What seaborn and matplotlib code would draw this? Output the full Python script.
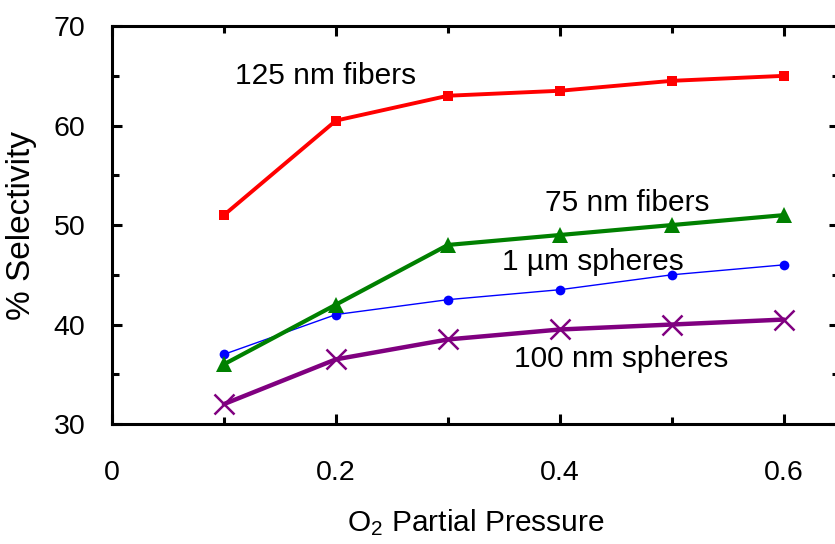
import numpy as np
import pandas as pd
import matplotlib
matplotlib.use("Agg")
import matplotlib.pyplot as plt
from matplotlib.ticker import MultipleLocator
import seaborn as sns

# =====================================
# DATA
# =====================================

pressure = [0.1, 0.2, 0.3, 0.4, 0.5, 0.6]

fibers_125 = [51.0, 60.5, 63.0, 63.5, 64.5, 65.0]
fibers_75 = [36.0, 42.0, 48.0, 49.0, 50.0, 51.0]
spheres_1um = [37.0, 41.0, 42.5, 43.5, 45.0, 46.0]
spheres_100 = [32.0, 36.5, 38.5, 39.5, 40.0, 40.5]

series_labels = ["125 nm fibers", "75 nm fibers", "1 µm spheres", "100 nm spheres"]

# =====================================
# STYLE
# =====================================

sns.set_style("ticks")
plt.rcParams["font.family"] = ["Liberation Sans", "DejaVu Sans"]
plt.rcParams["mathtext.fontset"] = "custom"
plt.rcParams["mathtext.rm"] = "Liberation Sans"
plt.rcParams["mathtext.it"] = "Liberation Sans:italic"
plt.rcParams["text.color"] = "black"
plt.rcParams["axes.labelcolor"] = "black"
plt.rcParams["xtick.color"] = "black"
plt.rcParams["ytick.color"] = "black"

fig = plt.figure(figsize=(8.35, 5.44), dpi=100)
ax = fig.add_axes([0.134, 0.2206, 0.871, 0.7314])

# =====================================
# LINES
# =====================================

df = pd.DataFrame({
    "p": pressure,
    "f125": fibers_125,
    "f75": fibers_75,
    "s1": spheres_1um,
    "s100": spheres_100,
})

sns.lineplot(data=df, x="p", y="s1", ax=ax, color="#0000ff", lw=1.0,
             marker="o", markersize=7, markeredgewidth=0, zorder=3)
sns.lineplot(data=df, x="p", y="f75", ax=ax, color="#008000", lw=3.0,
             marker="^", markersize=11, markeredgewidth=0, zorder=4)
sns.lineplot(data=df, x="p", y="s100", ax=ax, color="#800080", lw=3.2,
             marker="x", markersize=14, markeredgewidth=1.8,
             markeredgecolor="#800080", zorder=3)
sns.lineplot(data=df, x="p", y="f125", ax=ax, color="#ff0000", lw=2.8,
             marker="s", markersize=7, markeredgewidth=0, zorder=3)

# =====================================
# ANNOTATIONS
# =====================================

ax.text(0.110, 65.0, series_labels[0], fontsize=21.5, va="center", ha="left")
ax.text(0.387, 52.2, series_labels[1], fontsize=21.5, va="center", ha="left")
ax.text(0.348, 46.3, series_labels[2], fontsize=21.5, va="center", ha="left")
ax.text(0.359, 36.5, series_labels[3], fontsize=21.5, va="center", ha="left")

# =====================================
# AXES
# =====================================

ax.set_xlim(0, 0.6493)
ax.set_ylim(30, 70)
ax.xaxis.set_major_locator(MultipleLocator(0.2))
ax.xaxis.set_minor_locator(MultipleLocator(0.1))
ax.yaxis.set_major_locator(MultipleLocator(10))
ax.yaxis.set_minor_locator(MultipleLocator(5))
ax.set_xticks([0, 0.2, 0.4, 0.6])
ax.set_xticklabels(["0", "0.2", "0.4", "0.6"])

ax.tick_params(which="both", direction="in", top=True, right=True,
               width=2.2, labelsize=20.5, color="black", labelcolor="black")
ax.tick_params(which="major", length=7.5)
ax.tick_params(which="minor", length=5)
ax.tick_params(axis="x", which="major", pad=26)
ax.tick_params(axis="y", which="major", pad=19)

for s in ax.spines.values():
    s.set_linewidth(2.2)
    s.set_color("black")

ax.set_xlabel(r"O$_\mathrm{2}$ Partial Pressure", fontsize=21.5, labelpad=15)
ax.set_ylabel("% Selectivity", fontsize=24, labelpad=12)

fig.savefig("out.png", dpi=100)
plt.close()
